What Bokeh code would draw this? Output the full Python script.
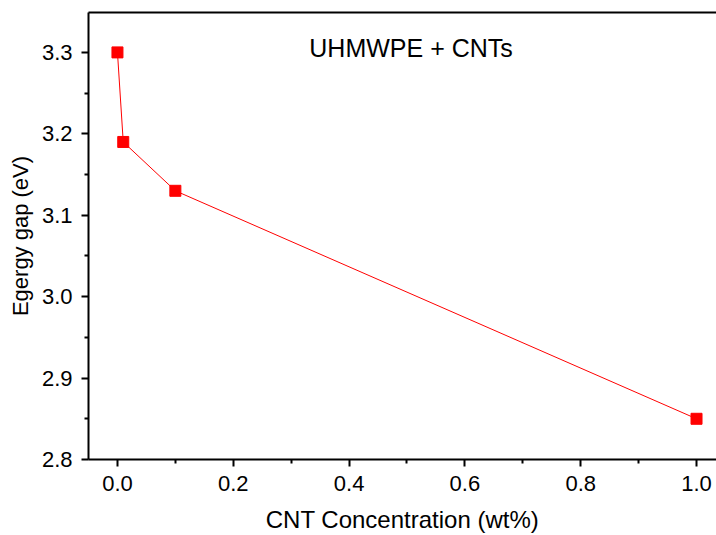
from bokeh.plotting import figure
from bokeh.models import LinearAxis, FixedTicker, Range1d, ColumnDataSource, PrintfTickFormatter
from bokeh.core.properties import value
from bokeh.embed import file_html
from bokeh.resources import INLINE

conc = [0.0, 0.01, 0.1, 1.0]
gap = [3.30, 3.19, 3.13, 2.85]
x_ticks = [0.0, 0.2, 0.4, 0.6, 0.8, 1.0]
y_ticks = [2.8, 2.9, 3.0, 3.1, 3.2, 3.3]
title_text = "UHMWPE + CNTs"
FONT = "Liberation Sans"

p = figure(width=716, height=535, output_backend="svg", toolbar_location=None,
           x_range=Range1d(-0.05, 1.0345), y_range=Range1d(2.8, 3.349),
           min_border_left=88, min_border_right=0, min_border_top=12, min_border_bottom=75)
p.outline_line_color = None
p.grid.visible = False
p.background_fill_color = "white"
p.border_fill_color = "white"

src = ColumnDataSource(dict(x=conc, y=gap))
p.line("x", "y", source=src, line_color="red", line_width=1)
p.scatter("x", "y", source=src, marker="square", size=11, fill_color="red", line_color="red")

p.text(x=[0.507], y=[3.305], text=[title_text], text_font=value(FONT), text_font_size="25px",
       text_align="center", text_baseline="middle", text_color="black")

for ax in (p.xaxis[0], p.yaxis[0]):
    ax.axis_line_width = 2
    ax.axis_line_color = "black"
    ax.major_tick_line_width = 2
    ax.minor_tick_line_width = 2
    ax.major_tick_in = 0
    ax.major_tick_out = 7
    ax.minor_tick_in = 0
    ax.minor_tick_out = 4
    ax.major_label_text_font = FONT
    ax.major_label_text_font_size = "22px"
    ax.major_label_text_color = "black"
    ax.axis_label_text_font = FONT
    ax.axis_label_text_font_style = "normal"
    ax.axis_label_text_color = "black"
    ax.formatter = PrintfTickFormatter(format="%.1f")

p.xaxis[0].ticker = FixedTicker(ticks=x_ticks, minor_ticks=[0.1, 0.3, 0.5, 0.7, 0.9])
p.yaxis[0].ticker = FixedTicker(ticks=y_ticks, minor_ticks=[2.85, 2.95, 3.05, 3.15, 3.25])
p.xaxis[0].axis_label = "CNT Concentration (wt%)"
p.yaxis[0].axis_label = "Egergy gap (eV)"
p.xaxis[0].axis_label_text_font_size = "24px"
p.yaxis[0].axis_label_text_font_size = "22px"
p.xaxis[0].major_label_standoff = 9
p.yaxis[0].major_label_standoff = 9
p.xaxis[0].axis_label_standoff = 12
p.yaxis[0].axis_label_standoff = 6

top = LinearAxis(ticker=FixedTicker(ticks=[]), axis_line_width=2, axis_line_color="black",
                 major_tick_out=0, minor_tick_out=0, major_label_text_font_size="0px")
p.add_layout(top, "above")

open("out.html", "w").write(file_html(p, INLINE))
